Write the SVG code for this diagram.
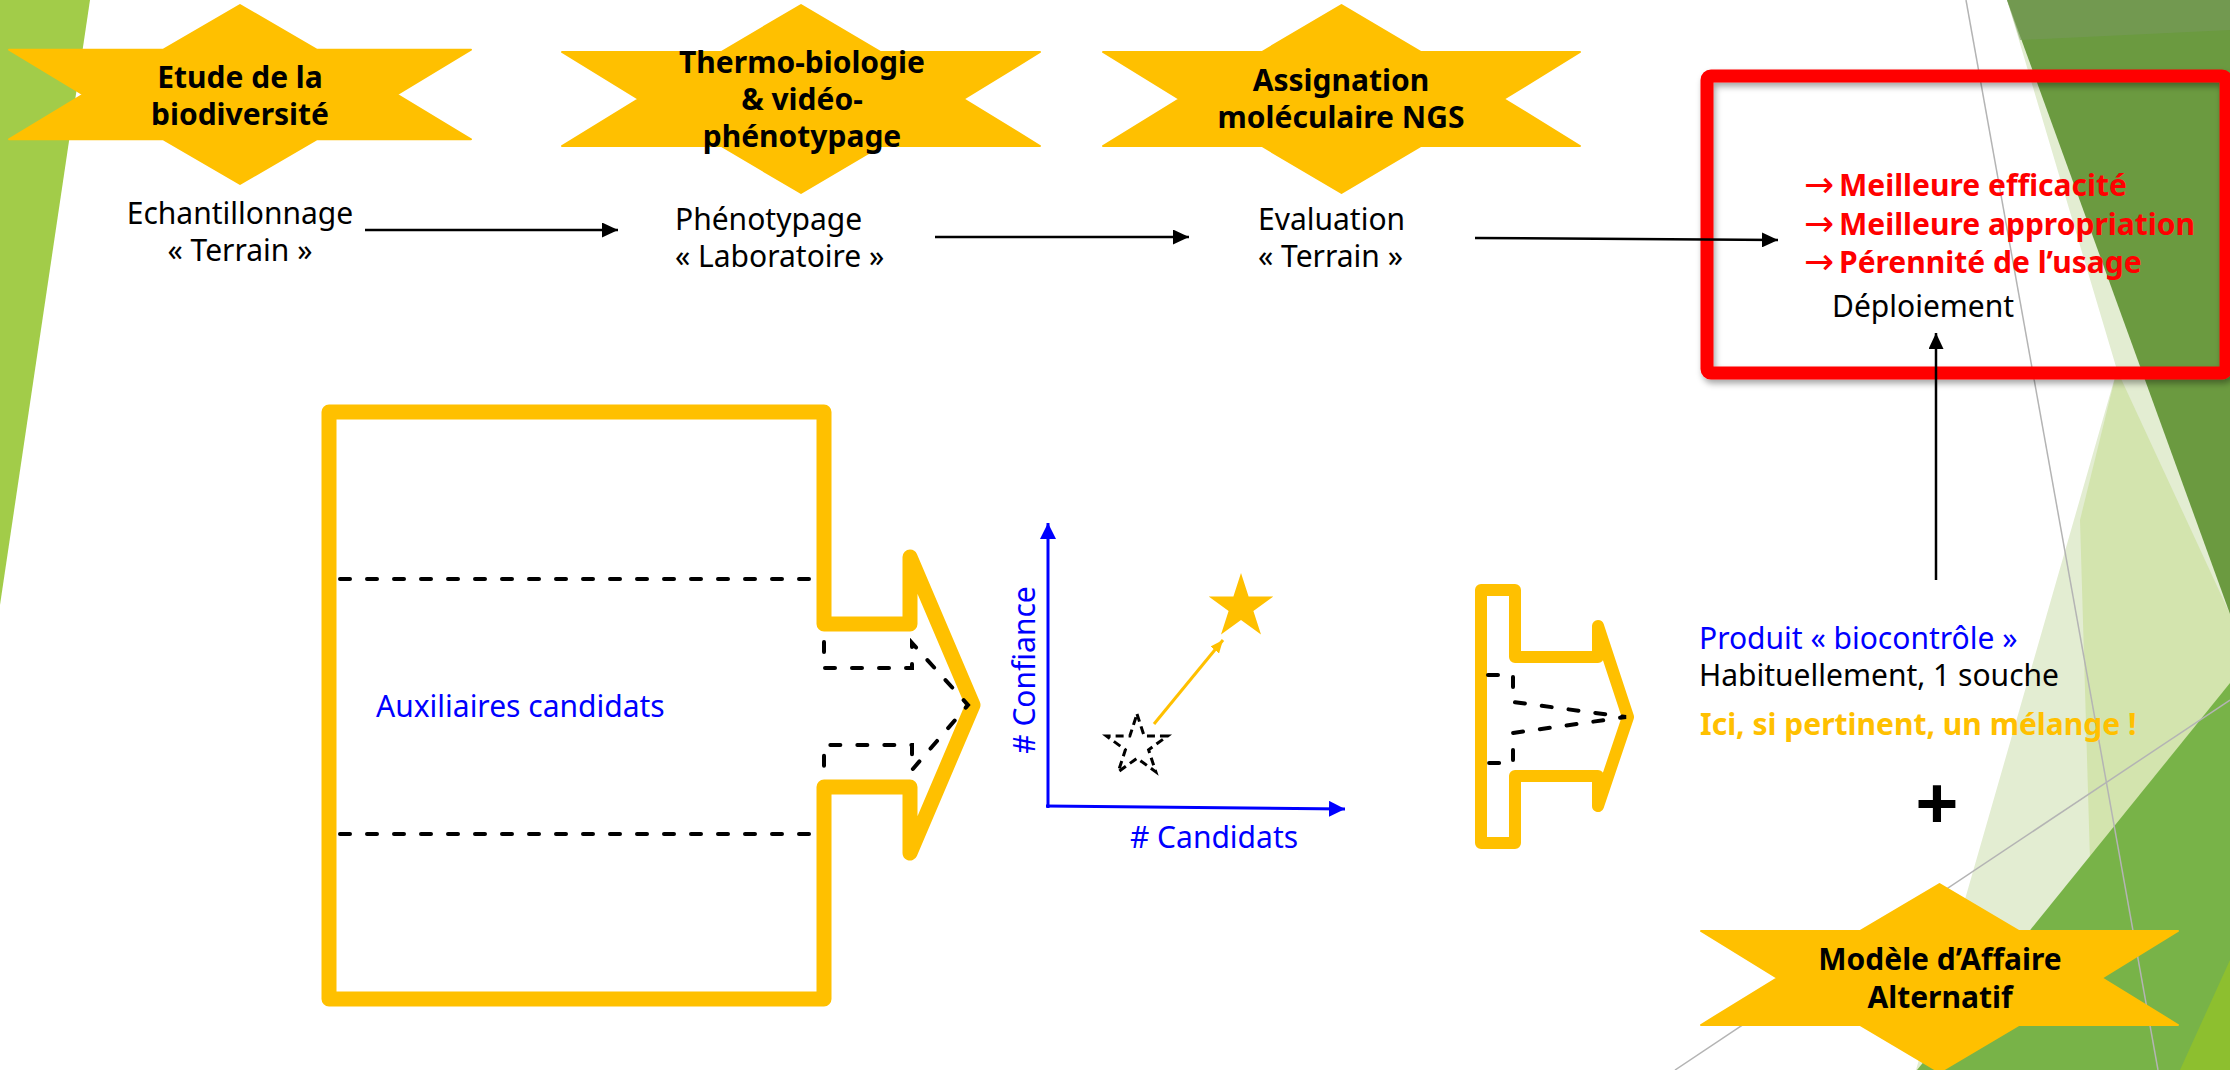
<svg xmlns="http://www.w3.org/2000/svg" width="2230" height="1070" viewBox="0 0 2230 1070">
<style>
text{font-family:"Noto Sans","Open Sans","Liberation Sans",sans-serif;font-size:30px;fill:#000}
.b{font-weight:bold}
.m{text-anchor:middle}
.blue{fill:#0000FF}
.red{fill:#FF0000;font-weight:bold}
.arr{font-family:"DejaVu Sans",sans-serif;font-size:36px;font-weight:normal}
.org{fill:#FFC000;font-weight:bold}
.plus{font-size:76px;font-weight:bold}
.star{fill:#FFC000;stroke:#FFC000;stroke-width:2;stroke-linejoin:round}
.frame{fill:none;stroke:#FFC000;stroke-linejoin:round}
.dash{fill:none;stroke:#000;stroke-width:4;stroke-dasharray:10 17;stroke-linecap:round}
.conn{stroke:#000;stroke-width:2.5;fill:none}
.axis{stroke:#0000FF;stroke-width:3;fill:none}
.grey{stroke:#B4B4B4;stroke-width:1.5;fill:none}
</style>
<defs>
<marker id="ah" markerUnits="userSpaceOnUse" markerWidth="16" markerHeight="15" refX="16" refY="7.5" orient="auto"><path d="M0,0 L16,7.5 L0,15 Z" fill="#000"/></marker>
<marker id="ahb" markerUnits="userSpaceOnUse" markerWidth="16" markerHeight="16" refX="16" refY="8" orient="auto"><path d="M0,0 L16,8 L0,16 Z" fill="#0000FF"/></marker>
<marker id="ahy" markerUnits="userSpaceOnUse" markerWidth="13" markerHeight="11" refX="13" refY="5.5" orient="auto"><path d="M0,0 L13,5.5 L0,11 Z" fill="#FFC000"/></marker>
<filter id="sh" x="-5%" y="-5%" width="110%" height="115%"><feDropShadow dx="2" dy="4" stdDeviation="3" flood-color="#000" flood-opacity="0.35"/></filter>
</defs>

<g id="background">
<rect width="2230" height="1070" fill="#FFFFFF"/>
<polygon points="0,0 90,0 0,605" fill="#A2CC49"/>
<polygon points="2007,0 2230,0 2230,1070 1916,1070 2117,370" fill="#E3EDD2"/>
<polygon points="2117,370 2230,614 2230,700 2090,860 2080,520" fill="#D3E4AE"/>
<polygon points="2007,0 2230,0 2230,614" fill="#6B9A40"/>
<polygon points="2007,0 2230,0 2230,30 2020,40" fill="#76995C" opacity="0.6"/>
<polygon points="2230,683 2230,1070 1917,1070" fill="#78B348"/>
<polygon points="2230,960 2230,1070 2180,1070" fill="#8DBF2F"/>
<line class="grey" x1="1966" y1="0" x2="2158" y2="1070"/>
<line class="grey" x1="1675" y1="1070" x2="2230" y2="700"/>
</g>

<g id="star-etude">
<polygon class="star" points="240,5 317,49.75 471,49.75 397,94.5 471,139.25 317,139.25 240,184 163,139.25 9,139.25 83,94.5 9,49.75 163,49.75"/>
<text class="b m" x="240" y="88">Etude de la</text>
<text class="b m" x="240" y="125">biodiversité</text>
</g>

<g id="star-thermo">
<polygon class="star" points="801,5 880.7,52 1040,52 963.5,99 1040,146 880.7,146 801,193 721.3,146 562,146 638.5,99 562,52 721.3,52"/>
<text class="b m" x="802" y="73">Thermo-biologie</text>
<text class="b m" x="802" y="110">&amp; vidéo-</text>
<text class="b m" x="802" y="147">phénotypage</text>
</g>

<g id="star-assignation">
<polygon class="star" points="1341.5,5 1421,52 1580,52 1503.7,99 1580,146 1421,146 1341.5,193 1262,146 1103,146 1179.3,99 1103,52 1262,52"/>
<text class="b m" x="1341" y="91">Assignation</text>
<text class="b m" x="1341" y="128">moléculaire NGS</text>
</g>

<g id="node-echantillonnage">
<text class="m" x="240" y="224">Echantillonnage</text>
<text class="m" x="240" y="261">« Terrain »</text>
</g>

<g id="node-phenotypage">
<text x="675" y="230">Phénotypage</text>
<text x="675" y="267">« Laboratoire »</text>
</g>

<g id="node-evaluation">
<text x="1258" y="230">Evaluation</text>
<text x="1258" y="267">« Terrain »</text>
</g>

<g id="node-deploiement">
<rect x="1707" y="76" width="519" height="297" rx="4" fill="none" stroke="#FF0000" stroke-width="13" filter="url(#sh)"/>
<text class="red arr" x="1804" y="197">→</text>
<text class="red" x="1839" y="196">Meilleure efficacité</text>
<text class="red arr" x="1804" y="236">→</text>
<text class="red" x="1839" y="235">Meilleure appropriation</text>
<text class="red arr" x="1804" y="274">→</text>
<text class="red" x="1839" y="273">Pérennité de l’usage</text>
<text x="1832" y="317">Déploiement</text>
</g>

<g id="node-auxiliaires">
<path class="frame" stroke-width="15" d="M329,412 H824 V624 H910 V557 L973,705 L910,853 V787 H824 V999 H329 Z"/>
<line class="dash" x1="340" y1="579" x2="814" y2="579"/>
<line class="dash" x1="340" y1="834" x2="814" y2="834"/>
<path class="dash" d="M824,642 V668 H912 V643 L968,705 L912,770 V745 H824 V772"/>
<text class="blue" x="376" y="717">Auxiliaires candidats</text>
</g>

<g id="node-graph">
<line class="axis" x1="1048" y1="808" x2="1048" y2="523" marker-end="url(#ahb)"/>
<line class="axis" x1="1046" y1="806" x2="1345" y2="809" marker-end="url(#ahb)"/>
<text class="blue m" transform="translate(1035,670) rotate(-90)"># Confiance</text>
<text class="blue m" x="1214" y="848"># Candidats</text>
<polygon points="1137,714 1144.2,736.1 1167.4,736.1 1148.6,749.8 1155.8,771.9 1137,758.2 1118.2,771.9 1125.4,749.8 1106.6,736.1 1129.8,736.1" fill="none" stroke="#000" stroke-width="3" stroke-dasharray="8 5"/>
<line x1="1154" y1="724" x2="1223" y2="640" stroke="#FFC000" stroke-width="3" marker-end="url(#ahy)"/>
<polygon points="1241,573 1248.6,596.5 1273.3,596.5 1253.4,611 1261,634.5 1241,620 1221,634.5 1228.6,611 1208.7,596.5 1233.4,596.5" fill="#FFC000"/>
</g>

<g id="node-produit">
<path class="frame" stroke-width="12" d="M1481,590 H1515 V657 H1598 V626 L1628,717 L1598,806 V776 H1515 V843 H1481 Z"/>
<path class="dash" d="M1488,675 H1513 V702 L1626,717 L1513,733 V763 H1488"/>
<text class="blue" x="1699" y="649">Produit « biocontrôle »</text>
<text x="1699" y="686">Habituellement, 1 souche</text>
<text class="org" x="1700" y="735">Ici, si pertinent, un mélange !</text>
<text class="plus m" x="1937" y="830">+</text>
</g>

<g id="star-modele">
<polygon class="star" points="1939.5,884 2019,931 2178,931 2101.7,978 2178,1025 2019,1025 1939.5,1072 1860,1025 1701,1025 1777.3,978 1701,931 1860,931"/>
<text class="b m" x="1940" y="970">Modèle d’Affaire</text>
<text class="b m" x="1940" y="1008">Alternatif</text>
</g>

<g id="connectors">
<line class="conn" x1="365" y1="230" x2="618" y2="230" marker-end="url(#ah)"/>
<line class="conn" x1="935" y1="237" x2="1189" y2="237" marker-end="url(#ah)"/>
<line class="conn" x1="1475" y1="238" x2="1778" y2="240" marker-end="url(#ah)"/>
<line class="conn" x1="1936" y1="580" x2="1936" y2="333" marker-end="url(#ah)"/>
</g>
</svg>
